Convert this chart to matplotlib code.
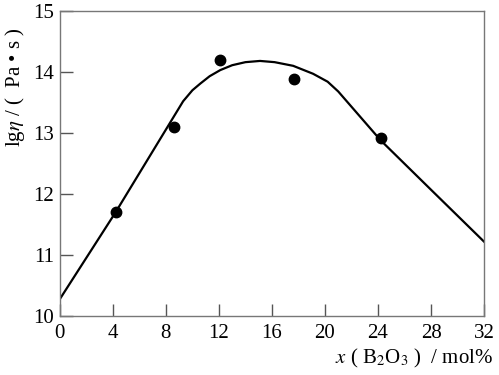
import numpy as np
import matplotlib
matplotlib.use("Agg")
import matplotlib.pyplot as plt

# measured points
pts_x = [4.2, 8.6, 12.1, 17.7, 24.2]
pts_y = [11.70, 13.10, 14.20, 13.88, 12.92]

# fitted curve
curve_x = [0, 4.2, 9.3, 10.0, 10.6, 11.3, 12.1, 13.0, 14.0, 15.1, 16.2, 17.6, 19.1, 20.2, 21.0, 24.2, 28.0, 32.0]
curve_y = [10.28, 11.70, 13.52, 13.70, 13.81, 13.93, 14.03, 14.11, 14.16, 14.18, 14.16, 14.10, 13.97, 13.84, 13.68, 12.88, 12.07, 11.22]

xticks = [0, 4, 8, 12, 16, 20, 24, 28, 32]
yticks = [10, 11, 12, 13, 14, 15]

plt.rcParams['font.family'] = ['Liberation Serif', 'Noto Sans CJK SC']
plt.rcParams['mathtext.fontset'] = 'stix'

fig = plt.figure(figsize=(4.99, 3.75), dpi=100)
ax = fig.add_axes([0.120, 0.157, 0.850, 0.814])

ax.plot(curve_x, curve_y, color='black', lw=1.6, solid_joinstyle='round')
ax.plot(pts_x, pts_y, 'o', color='black', markersize=7.5)

ax.set_xlim(0, 32)
ax.set_ylim(10, 15)
ax.set_xticks(xticks)
ax.set_yticks(yticks)
ax.tick_params(direction='in', length=9, width=1, labelsize=15, color='#555555')
ax.tick_params(axis='x', pad=6)
ax.tick_params(axis='y', pad=4)
for s in ax.spines.values():
    s.set_color('#777777')
    s.set_linewidth(1)

# axis titles placed as figure text to match the reference layout
fig.text(15 / 499, 1 - 87 / 375, r'lg$\eta$ / (  Pa • s )', fontsize=15,
         rotation=90, ha='center', va='center')
fig.text(493 / 499, 1 - 358 / 375, r'$x$ ( B$_{2}$O$_{3}$ )  / mol%', fontsize=15,
         ha='right', va='center')

fig.savefig('out.png', dpi=100)
